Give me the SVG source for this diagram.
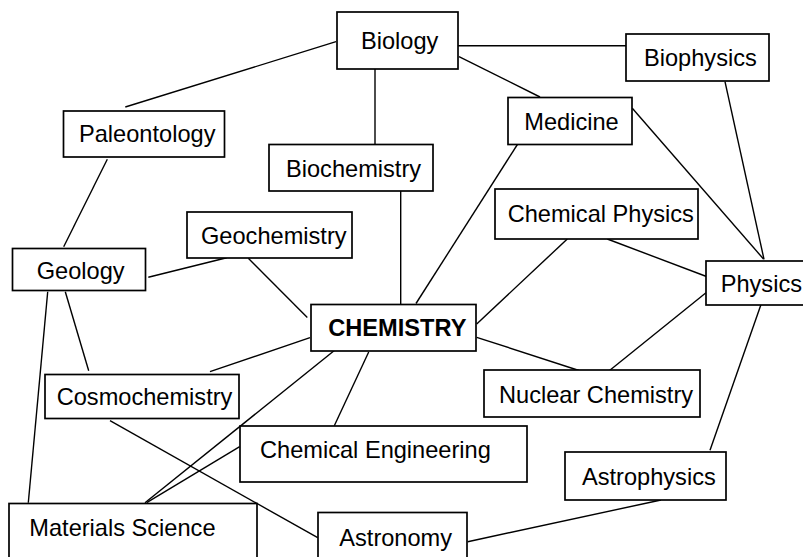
<svg xmlns="http://www.w3.org/2000/svg" width="803" height="557" viewBox="0 0 803 557">
<style>
.box{fill:#fff;stroke:#000;stroke-width:1.7}
.t{font-family:"Liberation Sans",Arial,sans-serif;font-size:23.6px;fill:#000}
.b{font-weight:bold}
#edges line{stroke:#000;stroke-width:1.4}
</style>
<rect x="0" y="0" width="803" height="557" fill="#fff"/>
<g id="edges">
<line x1="336" y1="41.7" x2="125.3" y2="107"/>
<line x1="375" y1="69" x2="375" y2="144.5"/>
<line x1="458" y1="45.7" x2="626" y2="45.7"/>
<line x1="459" y1="56.7" x2="540" y2="97"/>
<line x1="725" y1="81.7" x2="764" y2="259.3"/>
<line x1="632.3" y1="108.3" x2="763.5" y2="259"/>
<line x1="519" y1="142" x2="416" y2="303.5"/>
<line x1="400.7" y1="191" x2="400.7" y2="304.5"/>
<line x1="567.3" y1="239" x2="476.7" y2="324"/>
<line x1="607.3" y1="239" x2="706.5" y2="276.5"/>
<line x1="706" y1="292.7" x2="608.3" y2="371.5"/>
<line x1="476.7" y1="337.3" x2="579" y2="370.5"/>
<line x1="761" y1="304.5" x2="710" y2="450.3"/>
<line x1="661" y1="500" x2="467.7" y2="541.7"/>
<line x1="107.3" y1="159.3" x2="63.7" y2="246.7"/>
<line x1="148.3" y1="277.3" x2="226.7" y2="257.7"/>
<line x1="248.3" y1="258.3" x2="307.3" y2="317.5"/>
<line x1="65.3" y1="291.7" x2="88.7" y2="370.7"/>
<line x1="47.7" y1="291.7" x2="28.3" y2="502.7"/>
<line x1="310" y1="337.7" x2="210" y2="371.7"/>
<line x1="335" y1="350" x2="145" y2="502.7"/>
<line x1="368.7" y1="352" x2="334.3" y2="425.7"/>
<line x1="239.7" y1="446.7" x2="146.7" y2="502.7"/>
<line x1="110" y1="420.7" x2="317.7" y2="537.7"/>
</g>
<g id="biology"><rect class="box" x="337" y="12" width="121" height="57"/><text class="t" x="361" y="48.5">Biology</text></g>
<g id="paleontology"><rect class="box" x="63.5" y="111" width="161" height="46"/><text class="t" x="79" y="142">Paleontology</text></g>
<g id="biochemistry"><rect class="box" x="269" y="144.5" width="164" height="46.5"/><text class="t" x="286" y="176.5">Biochemistry</text></g>
<g id="geochemistry"><rect class="box" x="187" y="212" width="165" height="46"/><text class="t" x="201" y="243.5">Geochemistry</text></g>
<g id="geology"><rect class="box" x="12.5" y="248.5" width="133" height="42"/><text class="t" x="36.7" y="278.5">Geology</text></g>
<g id="biophysics"><rect class="box" x="626" y="34" width="143" height="47"/><text class="t" x="644" y="65.5">Biophysics</text></g>
<g id="medicine"><rect class="box" x="508" y="97.5" width="124" height="47"/><text class="t" x="524.3" y="130">Medicine</text></g>
<g id="chemical-physics"><rect class="box" x="495" y="189" width="203" height="50"/><text class="t" x="507.7" y="222">Chemical Physics</text></g>
<g id="physics"><rect class="box" x="706" y="261" width="110" height="44"/><text class="t" x="720.7" y="291.7">Physics</text></g>
<g id="chemistry"><rect class="box" x="311" y="304.5" width="165" height="46.5"/><text class="t b" x="328.3" y="336">CHEMISTRY</text></g>
<g id="cosmochemistry"><rect class="box" x="45" y="374.5" width="194" height="44"/><text class="t" x="56.7" y="405">Cosmochemistry</text></g>
<g id="chemical-engineering"><rect class="box" x="240" y="426" width="287" height="56"/><text class="t" x="260" y="458.3">Chemical Engineering</text></g>
<g id="nuclear-chemistry"><rect class="box" x="484" y="370" width="216" height="47"/><text class="t" x="499" y="402.7">Nuclear Chemistry</text></g>
<g id="astrophysics"><rect class="box" x="565" y="452" width="161" height="48"/><text class="t" x="582" y="485">Astrophysics</text></g>
<g id="materials-science"><rect class="box" x="9" y="503.5" width="248" height="70"/><text class="t" x="29.3" y="535.5">Materials Science</text></g>
<g id="astronomy"><rect class="box" x="318" y="512.5" width="149" height="70"/><text class="t" x="339.3" y="545.7">Astronomy</text></g>
</svg>
